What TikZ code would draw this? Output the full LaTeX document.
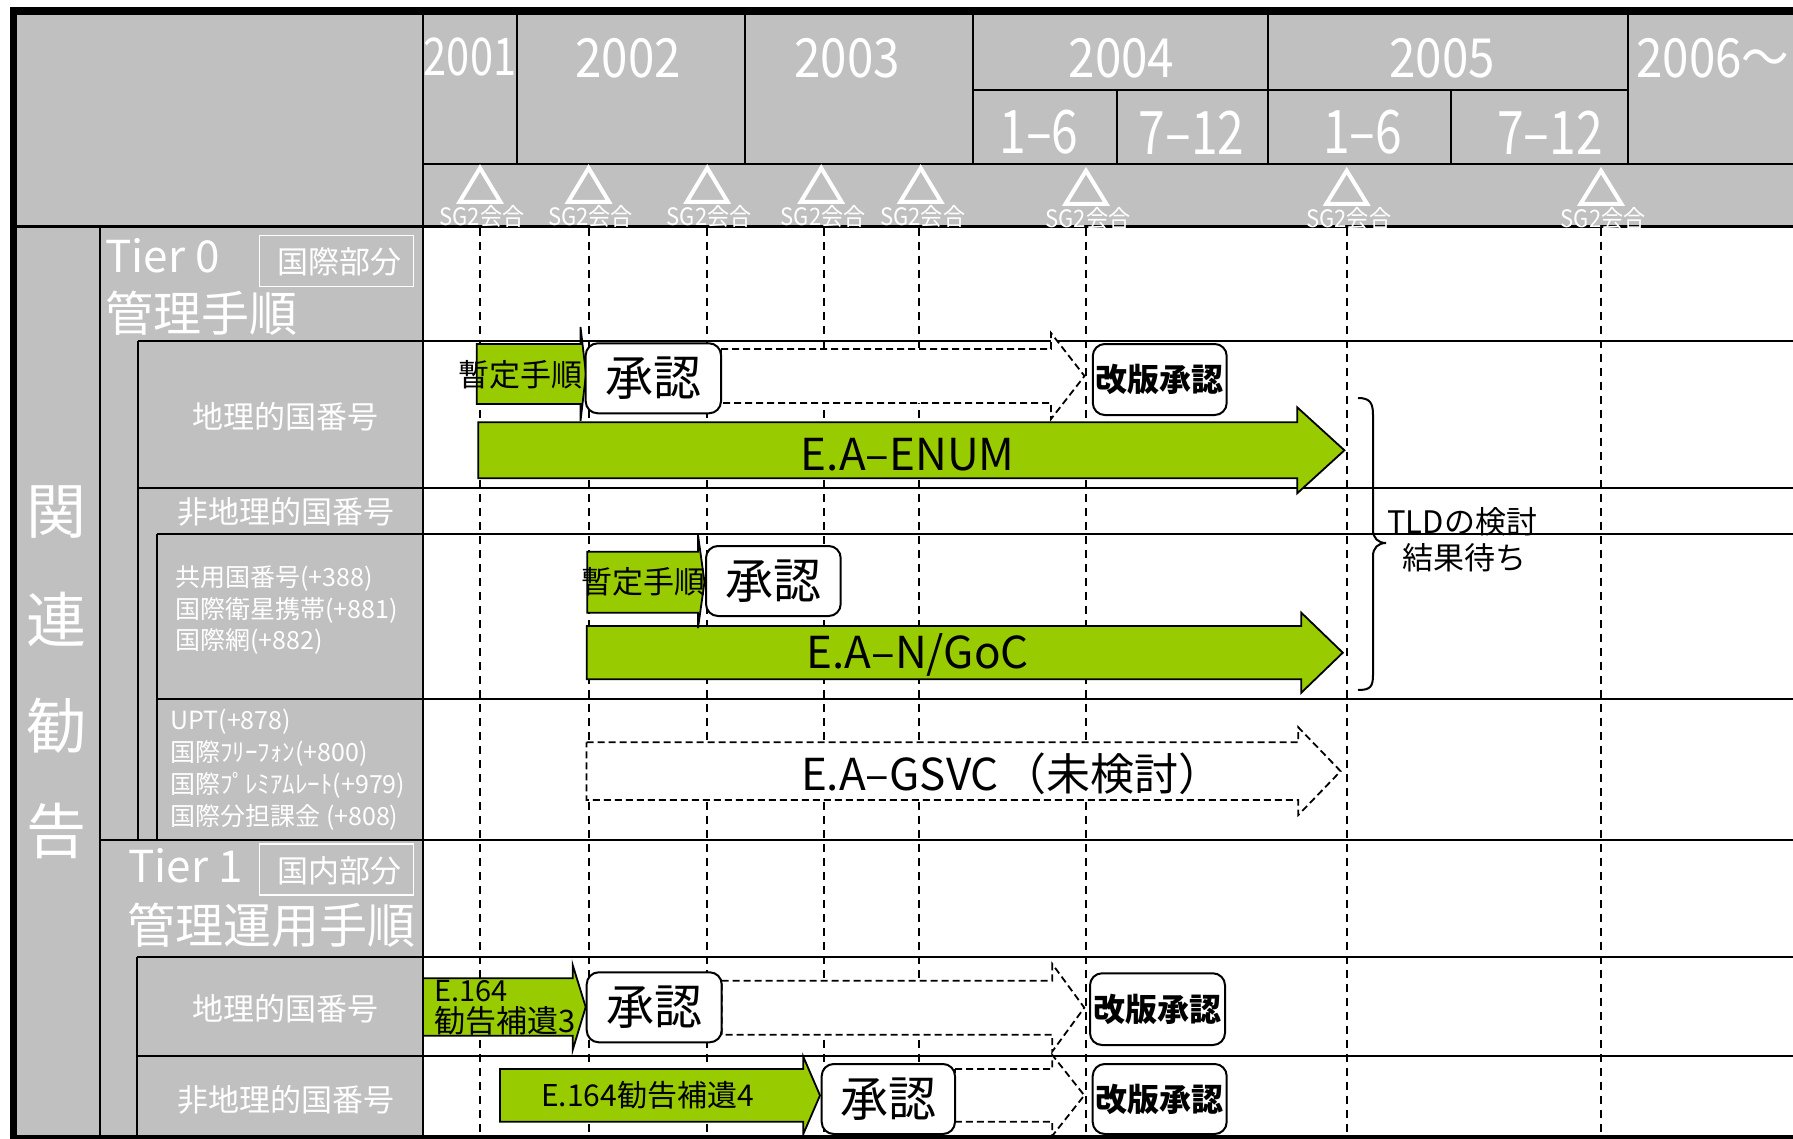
\documentclass[tikz,border=0pt]{standalone}
\usepackage{fontspec}
\setmainfont{Noto Sans CJK JP}
\newfontfamily\yrfont[FakeStretch=0.88]{Noto Sans CJK JP}
\newfontfamily\hffont[FakeStretch=0.8]{Noto Sans CJK JP}
\newfontfamily\sgfont[FakeStretch=0.92]{Noto Sans CJK JP}
\newcommand\myfs[1]{\fontsize{#1}{#1}\selectfont}
\definecolor{hdr}{HTML}{C0C0C0}
\definecolor{grn}{HTML}{99CC00}
\tikzset{
  struct/.style={line width=1pt},
  gridln/.style={line width=1pt, dash pattern=on 4pt off 3pt},
  garrow/.style={fill=grn, draw=black, line width=0.9pt, line join=miter},
  darrow/.style={fill=white, draw=black, line width=0.9pt, dash pattern=on 3.5pt off 2pt},
  rbox/.style={draw=black, fill=white, line width=1pt, rounded corners=6pt, inner sep=0pt},
  wt/.style={text=white, inner sep=0pt},
  bt/.style={text=black, inner sep=0pt},
  tri/.style={draw=white, line width=2pt, line join=miter},
}
\begin{document}
\begin{tikzpicture}[x=0.5pt,y=-0.5pt]
\useasboundingbox (0,0) rectangle (1793,1139);
% gray fills
\fill[hdr] (17,15) rectangle (423,1139);
\fill[hdr] (423,15) rectangle (1793,226.7);
% grid lines
\foreach \gx in {480,588.6,707.2,823.9,918.8,1086,1346.7,1600.5}
  \draw[gridln] (\gx,228) -- (\gx,1139);
% header structure
\draw[struct] (423,15) -- (423,1139);
\draw[struct] (517,15) -- (517,164);
\draw[struct] (744.7,15) -- (744.7,164);
\draw[struct] (973,15) -- (973,164);
\draw[struct] (1268,15) -- (1268,164);
\draw[struct] (1628,15) -- (1628,164);
\draw[struct] (973,90) -- (1628,90);
\draw[struct] (1116.6,90) -- (1116.6,164);
\draw[struct] (1450.8,90) -- (1450.8,164);
\draw[struct] (423,164) -- (1793,164);
\draw[line width=1.3pt] (17,226.7) -- (1793,226.7);
% left panel / rows
\draw[struct] (99.5,226.7) -- (99.5,1139);
\draw[struct] (137.8,341) -- (137.8,839.5);
\draw[struct] (157,534.3) -- (157,839.5);
\draw[struct] (137.8,341) -- (1793,341);
\draw[struct] (137.8,487.5) -- (1793,487.5);
\draw[struct] (157,534.3) -- (1793,534.3);
\draw[struct] (157,698.7) -- (1793,698.7);
\draw[struct] (99.5,839.5) -- (1793,839.5);
\draw[struct] (137,957) -- (1793,957);
\draw[struct] (137,1056) -- (1793,1056);
\draw[struct] (137,957) -- (137,1139);
% outer frame
\draw[line width=3.75pt] (13.4,1139) -- (13.4,11.25) -- (1793,11.25);
\draw[line width=2.5pt] (9.6,1137.5) -- (1793,1137.5);

% header texts
\node[wt] (y2001) at (470,57) {\hffont\myfs{26pt}2001};
\node[wt] (y2002) at (628,58) {\yrfont\myfs{27pt}2002};
\node[wt] (y2003) at (847,58) {\yrfont\myfs{27pt}2003};
\node[wt] (y2004) at (1121.6,58) {\yrfont\myfs{27pt}2004};
\node[wt] (y2005) at (1442,58) {\yrfont\myfs{27pt}2005};
\node[wt, anchor=west] (y2006) at (1636,58) {\yrfont\myfs{27pt}2006～};
\node[wt] (h41) at (1039,132.5) {\hffont\myfs{30pt}1–6};
\node[wt] (h42) at (1191.6,132.5) {\hffont\myfs{30pt}7–12};
\node[wt] (h51) at (1362.6,132.5) {\hffont\myfs{30pt}1–6};
\node[wt] (h52) at (1550,132.5) {\hffont\myfs{30pt}7–12};
% triangles and SG2 labels
\foreach \tx/\tt/\tb/\ly [count=\i] in {480/168/202/216.7,588.6/168/202/216.7,707.2/168/202/216.7,821.2/168/202/216.7,920.7/168/202/216.7,1086/170.7/204/218,1346.7/170.7/204/218,1601/170.7/204/218}{
  \draw[tri] (\tx,\tt) -- (\tx+20.5,\tb) -- (\tx-20.5,\tb) -- cycle;
  \node[wt] (sg\i) at (\tx+2,\ly) {\sgfont\myfs{12pt}SG2会合};
}

% left panel texts
\node[wt] (k1) at (56.5,512.5) {\myfs{30pt}関};
\node[wt] (k2) at (56.5,619) {\myfs{30pt}連};
\node[wt] (k3) at (56.5,725.7) {\myfs{30pt}勧};
\node[wt] (k4) at (56.5,831) {\myfs{30pt}告};
\node[wt, anchor=base west] (t0) at (105,272) {\myfs{22pt}Tier 0};
\draw[white, line width=0.8pt] (259.5,235.7) rectangle (413.3,286.7);
\node[wt] (t0b) at (339.6,262) {\myfs{15.5pt}国際部分};
\node[wt] (t0c) at (201,313) {\myfs{24pt}管理手順};
\node[wt] (r1) at (285.5,417) {\myfs{15.5pt}地理的国番号};
\node[wt] (r2) at (285.5,511.5) {\myfs{15.5pt}非地理的国番号};
\node[wt, anchor=west] (r3a) at (175,578.3) {\myfs{12.5pt}共用国番号(+388)};
\node[wt, anchor=west] (r3b) at (175,610) {\myfs{12.5pt}国際衛星携帯(+881)};
\node[wt, anchor=west] (r3c) at (175,641.7) {\myfs{12.5pt}国際網(+882)};
\node[wt, anchor=west] (r4a) at (170,721.7) {\myfs{12.5pt}UPT(+878)};
\node[wt, anchor=west] (r4b) at (170,753.3) {\myfs{12.5pt}国際ﾌﾘｰﾌｫﾝ(+800)};
\node[wt, anchor=west] (r4c) at (170,785) {\myfs{12.5pt}国際ﾌﾟﾚﾐｱﾑﾚｰﾄ(+979)};
\node[wt, anchor=west] (r4d) at (170,817.3) {\myfs{12.5pt}国際分担課金 (+808)};
\node[wt, anchor=base west] (t1) at (128,882.7) {\myfs{22pt}Tier 1};
\draw[white, line width=0.8pt] (259.5,844) rectangle (413.3,895);
\node[wt] (t1b) at (339.6,871) {\myfs{15.5pt}国内部分};
\node[wt] (t1c) at (271.6,925) {\myfs{24pt}管理運用手順};
\node[wt] (r5) at (285.5,1009) {\myfs{15.5pt}地理的国番号};
\node[wt] (r6) at (285.5,1100) {\myfs{15.5pt}非地理的国番号};

% green arrows
\draw[garrow] (478.3,422.3) -- (1297.2,422.3) -- (1297.2,407.3) -- (1344.4,450.3) -- (1297.2,493.3) -- (1297.2,478.3) -- (478.3,478.3) -- cycle;
\node[bt] (enum) at (907.7,455) {\myfs{22pt}E.A–ENUM};
\draw[garrow] (586.7,626) -- (1301.3,626) -- (1301.3,612.7) -- (1342.8,652.7) -- (1301.3,692.7) -- (1301.3,679.3) -- (586.7,679.3) -- cycle;
\node[bt] (goc) at (917.7,655) {\myfs{22pt}E.A–N/GoC};
\draw[garrow] (476.7,344) -- (580.5,344) -- (580.5,327) -- (586,374) -- (580.5,421) -- (580.5,404) -- (476.7,404) -- cycle;
\node[bt] (zA) at (520.5,374.5) {\myfs{15.5pt}暫定手順};
\draw[garrow] (587.3,551.7) -- (698,551.7) -- (698,535) -- (704.5,582) -- (698,628) -- (698,612.7) -- (587.3,612.7) -- cycle;
\node[bt] (zB) at (643.3,582) {\myfs{15.5pt}暫定手順};
\draw[garrow] (423,978.3) -- (572.7,978.3) -- (572.7,965) -- (585.7,1007) -- (572.7,1050) -- (572.7,1035.7) -- (423,1035.7) -- cycle;
\node[bt, anchor=west] (e3a) at (434,991) {\myfs{14.5pt}E.164};
\node[bt, anchor=west] (e3b) at (434,1021) {\myfs{15.5pt}勧告補遺3};
\draw[garrow] (500,1069) -- (803.3,1069) -- (803.3,1056.7) -- (820,1095.4) -- (803.3,1134) -- (803.3,1121.7) -- (500,1121.7) -- cycle;
\node[bt] (e4) at (647.5,1095) {\myfs{15pt}E.164勧告補遺4};

% dashed arrows
\draw[darrow] (721,349) -- (1051,349) -- (1051,333) -- (1084.5,376) -- (1051,419) -- (1051,403) -- (721,403) -- cycle;
\draw[darrow] (586.5,742.3) -- (1298.3,742.3) -- (1298.3,727.3) -- (1340.6,771.2) -- (1298.3,815) -- (1298.3,800) -- (586.5,800) -- cycle;
\node[bt] (gsvc) at (1012,773.3) {\myfs{22pt}E.A–GSVC\kern2pt（未検討）};
\draw[darrow] (721.7,980.7) -- (1052.3,980.7) -- (1052.3,964) -- (1084.3,1007.7) -- (1052.3,1051.4) -- (1052.3,1034.7) -- (721.7,1034.7) -- cycle;
\draw[darrow] (955,1069) -- (1052.3,1069) -- (1052.3,1055) -- (1084.3,1095.4) -- (1052.3,1135.8) -- (1052.3,1121.7) -- (955,1121.7) -- cycle;

% rounded boxes
\node[rbox, minimum width=67.65pt, minimum height=35pt] (sA) at (653.35,378.3) {\myfs{24pt}承認};
\node[rbox, minimum width=66.95pt, minimum height=35.5pt] (kA) at (1159.75,379.5) {\myfs{16pt}\bfseries 改版承認};
\node[rbox, minimum width=67.35pt, minimum height=35pt] (sB) at (773.35,581) {\myfs{24pt}承認};
\node[rbox, minimum width=67.5pt, minimum height=35pt] (sC) at (654.2,1007.3) {\myfs{24pt}承認};
\node[rbox, minimum width=67.5pt, minimum height=35.85pt] (kC) at (1157.5,1009.15) {\myfs{16pt}\bfseries 改版承認};
\node[rbox, minimum width=66.65pt, minimum height=35pt] (sD) at (888.35,1099) {\myfs{24pt}承認};
\node[rbox, minimum width=67pt, minimum height=35pt] (kD) at (1159.7,1099) {\myfs{16pt}\bfseries 改版承認};

% brace and TLD note
\draw[line width=1pt] (1358,398) .. controls (1370,398) and (1373,403) .. (1373,415) -- (1373,530) .. controls (1373,538) and (1378,543) .. (1386,543) .. controls (1378,543) and (1373,548) .. (1373,556) -- (1373,675) .. controls (1373,687) and (1370,690) .. (1358,690);
\node[bt, anchor=west] (tld1) at (1387,521.7) {\myfs{15.5pt}TLDの検討};
\node[bt, anchor=west] (tld2) at (1401.7,558) {\myfs{15.5pt}結果待ち};
\end{tikzpicture}
\end{document}
